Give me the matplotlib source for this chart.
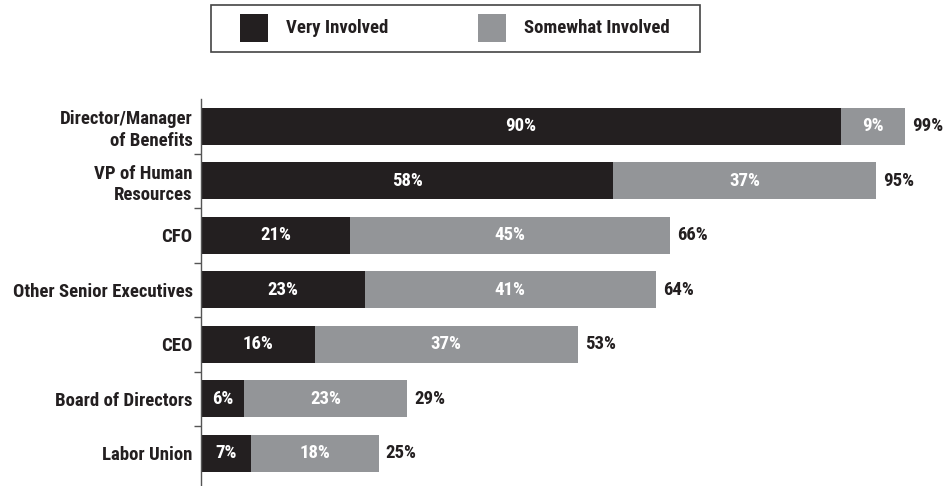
import matplotlib.pyplot as plt
from matplotlib.patches import Rectangle

plt.rcParams["font.family"] = ["Roboto Condensed", "DejaVu Sans"]
plt.rcParams["font.stretch"] = "condensed"
plt.rcParams["font.weight"] = "bold"

categories = ["Director/Manager\nof Benefits", "VP of Human\nResources", "CFO",
              "Other Senior Executives", "CEO", "Board of Directors", "Labor Union"]
very_involved = [90, 58, 21, 23, 16, 6, 7]
somewhat_involved = [9, 37, 45, 41, 37, 23, 18]
totals = [99, 95, 66, 64, 53, 29, 25]
series_names = ["Very Involved", "Somewhat Involved"]

DARK = "#231f20"
GRAY = "#939598"
FS = 13.5

fig = plt.figure(figsize=(9.45, 4.86), dpi=100)
ax = fig.add_axes([201 / 945, 0.0, 711 / 945, 1 - 99 / 486])

y = list(range(len(categories)))
ax.barh(y, very_involved, height=0.68, color=DARK)
ax.barh(y, somewhat_involved, left=very_involved, height=0.68, color=GRAY)

for i in y:
    ax.text(very_involved[i] / 2, i, f"{very_involved[i]}%", color="white",
            ha="center", va="center", fontsize=FS, fontweight="bold")
    ax.text(very_involved[i] + somewhat_involved[i] / 2, i, f"{somewhat_involved[i]}%",
            color="white", ha="center", va="center", fontsize=FS, fontweight="bold")
    ax.annotate(f"{totals[i]}%", (totals[i], i), xytext=(5, 0), textcoords="offset points",
                ha="left", va="center", fontsize=FS, fontweight="bold", color=DARK)

ax.set_xlim(0, 100)
ax.set_ylim(6.6, -0.5)
ax.set_yticks(y)
ax.set_yticklabels(categories, fontsize=FS, fontweight="bold", color=DARK, linespacing=1.25)
ax.tick_params(axis="y", which="major", length=0, pad=6)
ax.set_yticks([i + 0.5 for i in y[:-1]], minor=True)
ax.tick_params(axis="y", which="minor", length=5, width=1, color="#555555", direction="out")
ax.tick_params(axis="x", bottom=False, labelbottom=False)
for s in ["top", "right", "bottom"]:
    ax.spines[s].set_visible(False)
ax.spines["left"].set_color("#555555")
ax.spines["left"].set_linewidth(1)

# legend box
W, H = 945, 486
fig.add_artist(Rectangle((211 / W, 1 - 52 / H), 489 / W, 47 / H, transform=fig.transFigure,
                         fill=False, edgecolor="#444444", linewidth=1.2))
for x0, tx, color, name in [(240, 286, DARK, series_names[0]), (478, 524, GRAY, series_names[1])]:
    fig.add_artist(Rectangle((x0 / W, 1 - 42 / H), 28 / W, 28 / H, transform=fig.transFigure,
                             color=color, linewidth=0))
    fig.text(tx / W, 1 - 28 / H, name, ha="left", va="center", fontsize=FS,
             fontweight="bold", color=DARK)

fig.savefig("out.png", dpi=100)
plt.close(fig)
